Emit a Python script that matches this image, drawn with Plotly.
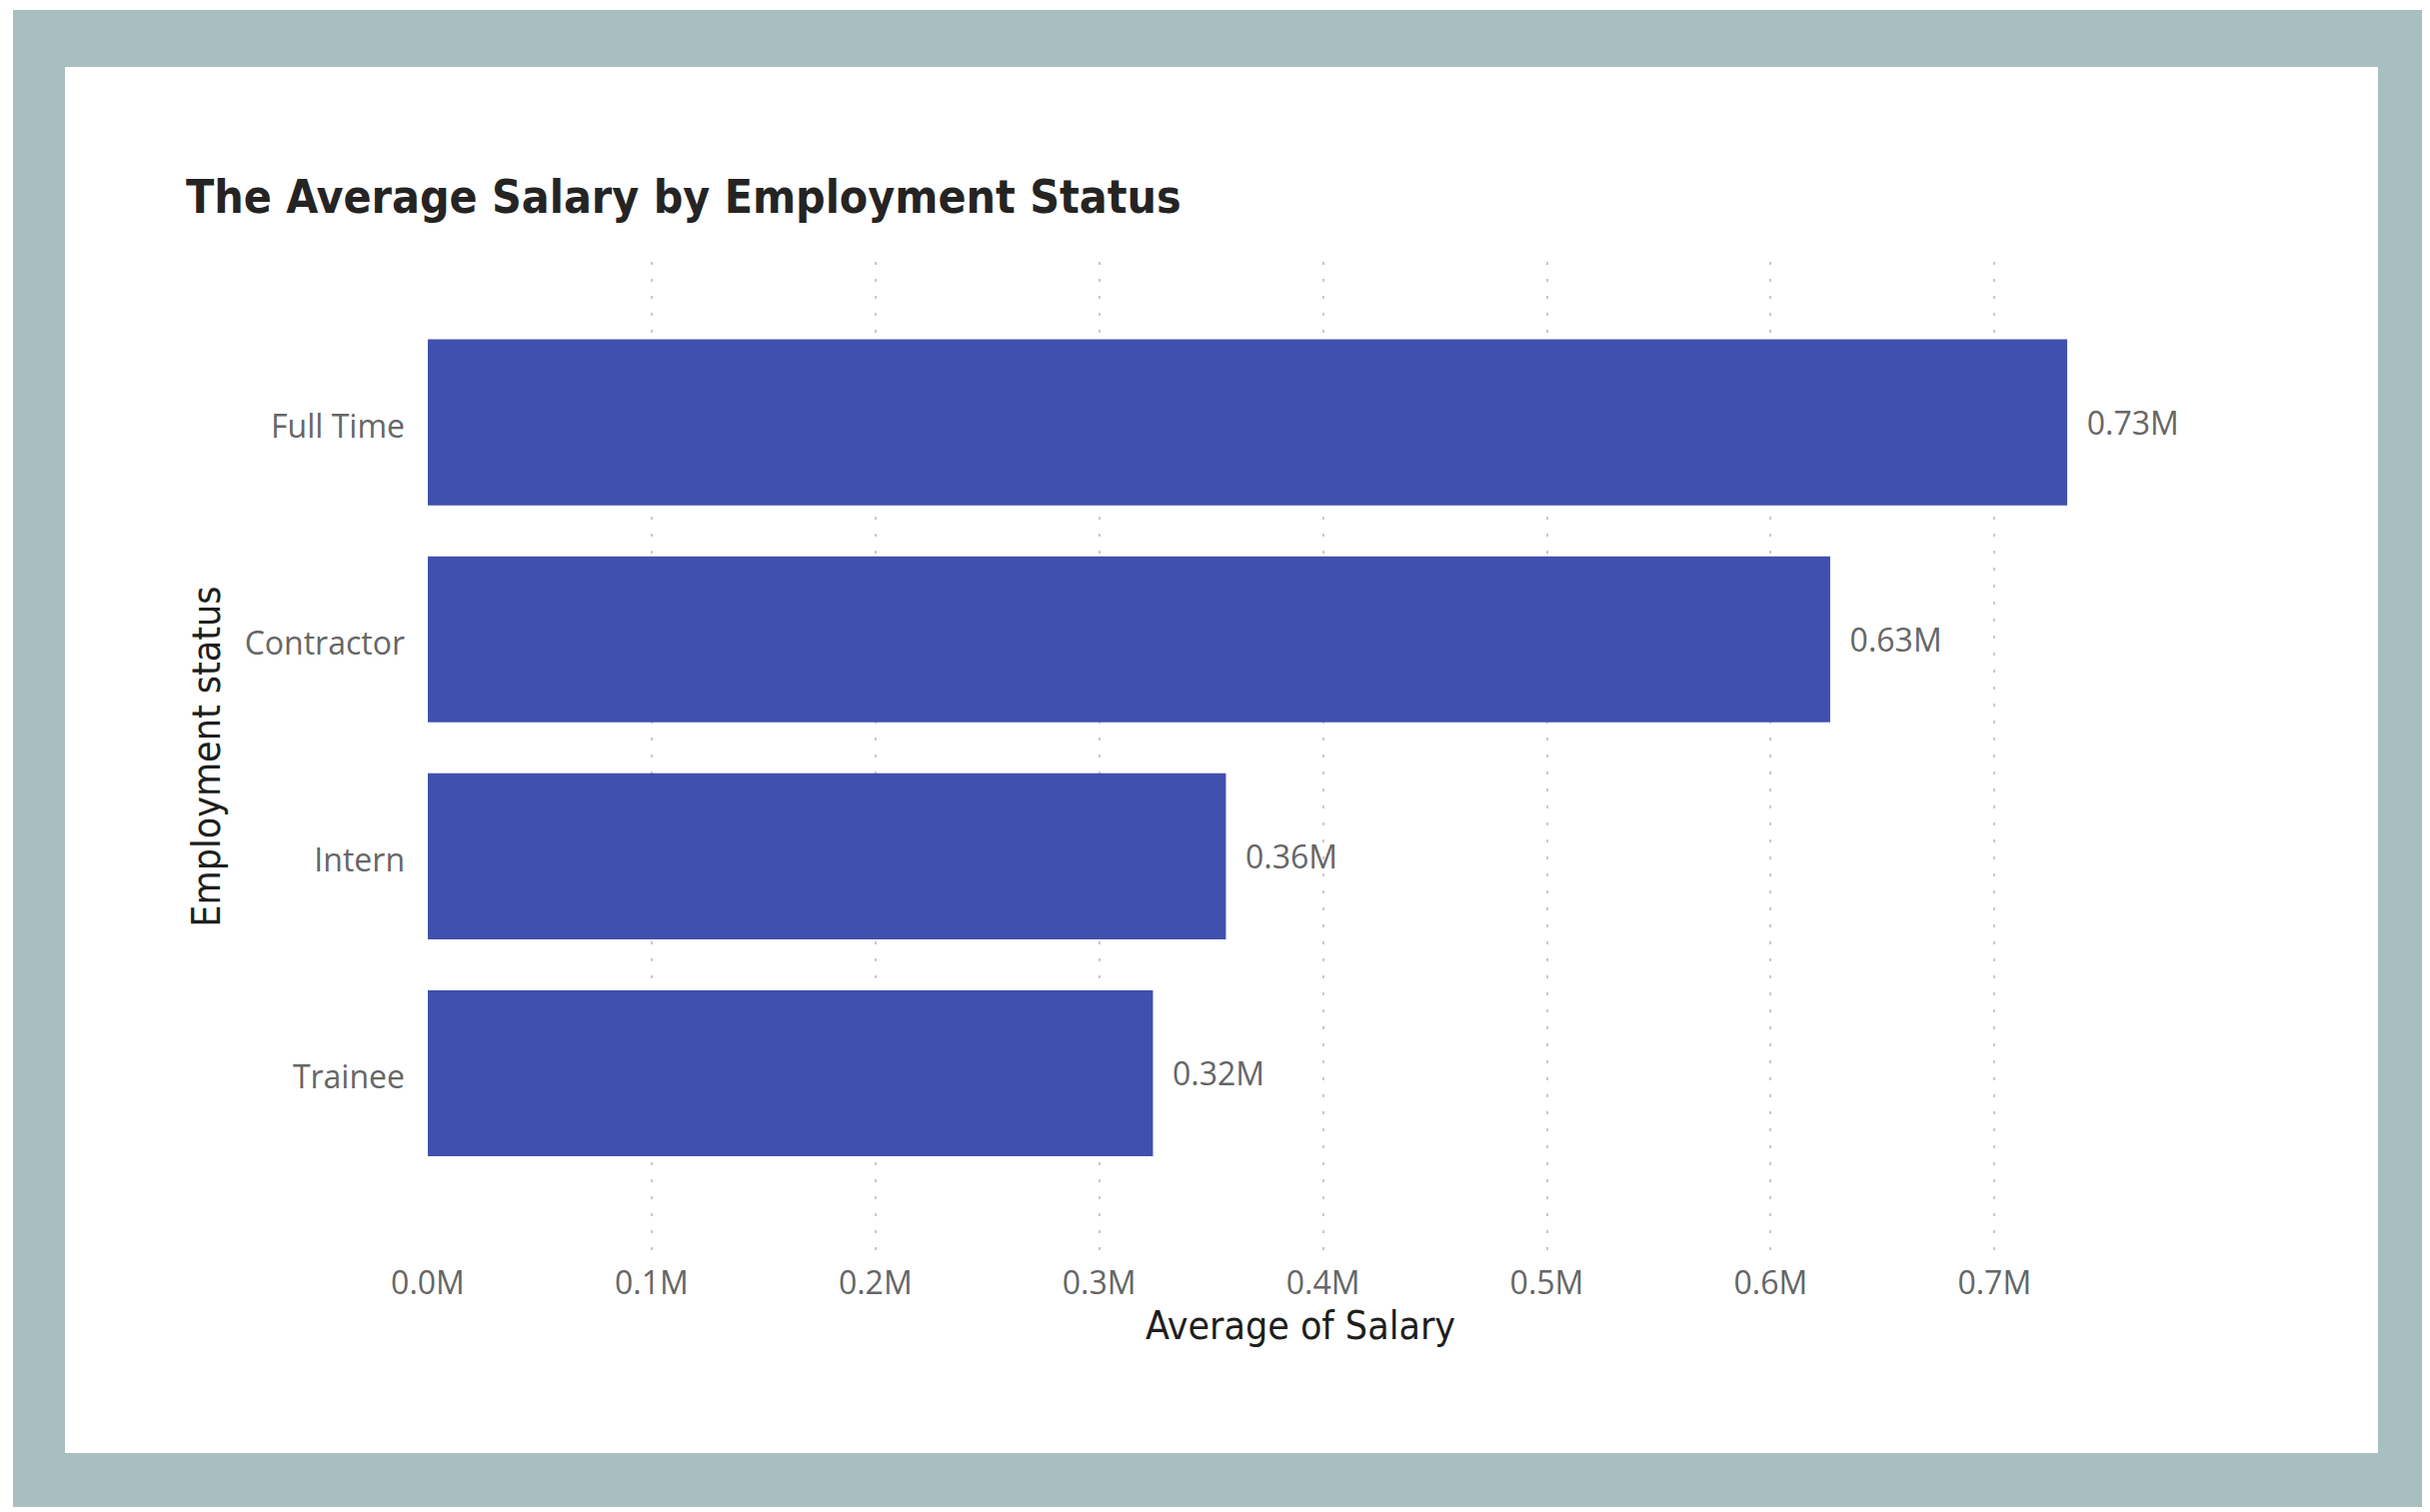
import plotly.graph_objects as go

# --- DATA ---
statuses = ["Full Time", "Contractor", "Intern", "Trainee"]
avg_salary = [732500, 626600, 356600, 324000]
tick_values = [0, 100000, 200000, 300000, 400000, 500000, 600000, 700000]
tick_labels = ["0.0M", "0.1M", "0.2M", "0.3M", "0.4M", "0.5M", "0.6M", "0.7M"]

bar_labels = ["\u00a0\u00a0" + f"{v / 1e6:.2f}M" for v in avg_salary]

# --- GEOMETRY (pixels, page coords; page body has an 8px margin) ---
OFF = 8
W, H = 2431 - OFF, 1513 - OFF
L, T = 428 - OFF, 262 - OFF
R = W - (2174 - OFF)
B = H - (1252 - OFF)
pw = W - L - R
ph = H - T - B


def px_x(x):
    return (x - OFF - L) / pw


def px_y(y):
    return (H - B - (y - OFF)) / ph


def frame_rect(x0, y0, x1, y1, color):
    return dict(type="rect", xref="paper", yref="paper", layer="below",
                x0=px_x(x0), x1=px_x(x1), y0=px_y(y1), y1=px_y(y0),
                fillcolor=color, line=dict(width=0))


label_font = dict(family="Segoe UI, Open Sans, sans-serif", size=32, color="#666666")
din_font = "DejaVu Sans Condensed, DIN, sans-serif"

fig = go.Figure(go.Bar(
    x=avg_salary, y=statuses, orientation="h",
    marker=dict(color="#4050AE", line=dict(width=0)),
    text=bar_labels, textposition="outside", textfont=label_font,
    cliponaxis=False, width=0.765,
))

fig.update_layout(
    width=W, height=H,
    margin=dict(l=L, r=R, t=T, b=B),
    paper_bgcolor="white", plot_bgcolor="rgba(0,0,0,0)",
    showlegend=False,
    shapes=[frame_rect(13, 10, 2440, 1508, "#A8BFC2"),
            frame_rect(65, 67, 2379, 1454, "white")],
    title=dict(text="<b>The Average Salary by Employment Status</b>",
               xref="container", yref="container",
               x=(186 - OFF) / W, xanchor="left", y=1 - (197 - OFF) / H, yanchor="middle",
               font=dict(family=din_font, size=46, color="#252423")),
    xaxis=dict(range=[0, pw * 100000 / 223.9], tickvals=tick_values, ticktext=tick_labels,
               tickfont=label_font, ticks="", ticklabelstandoff=10,
               showgrid=True, gridcolor="#C8C8C8", gridwidth=2, griddash="3px,14px",
               zeroline=False, showline=False,
               title=dict(text="Average of Salary", standoff=7,
                          font=dict(family=din_font, size=39, color="#1E1E1E"))),
    yaxis=dict(range=[3.82, -0.74], categoryorder="array", categoryarray=statuses,
               tickfont=label_font, ticks="", ticklabelstandoff=22, ticklabelshift=-4,
               showgrid=False, zeroline=False, showline=False,
               title=dict(text="Employment status", standoff=11,
                          font=dict(family=din_font, size=39, color="#1E1E1E"))),
)

fig.write_html("out.html")
